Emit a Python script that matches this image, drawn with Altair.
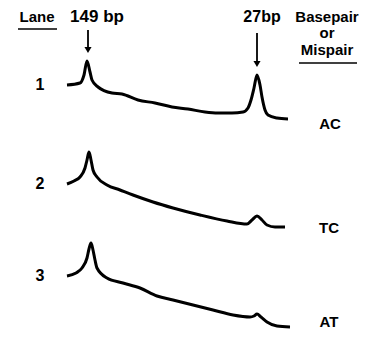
import altair as alt
import pandas as pd

# Densitometer traces (position along gel, trace height)
lane1_pos = [67, 80, 84, 87, 90, 92, 98, 112, 122, 138, 155, 172, 188, 205, 218, 232, 243, 248, 251, 254, 257, 260, 262, 265, 268, 277, 288]
lane1_val = [85, 83, 75, 61, 72, 80, 87, 93, 94, 100, 103, 107, 109, 112, 113, 113, 112, 108, 100, 88, 75, 85, 97, 110, 115, 118, 119]

lane2_pos = [67, 74, 80, 85, 87, 89, 91, 93, 97, 107, 120, 133, 153, 173, 200, 227, 247, 252, 257, 262, 267, 275, 285]
lane2_val = [184, 181, 177, 168, 160, 152, 160, 170, 177, 185, 190, 195, 202, 208, 215, 221, 224, 220, 216, 220, 225, 227, 227]

lane3_pos = [67, 76, 82, 87, 89, 91, 93, 95, 97, 107, 123, 140, 157, 173, 193, 213, 233, 250, 254, 257, 261, 267, 277, 290]
lane3_val = [276, 273, 268, 258, 249, 243, 250, 260, 268, 278, 283, 288, 296, 300, 305, 310, 315, 317, 316, 314, 317, 322, 326, 327]

lane_names = ["1", "2", "3"]
lane_pairs = ["AC", "TC", "AT"]

X = alt.Scale(domain=[8, 359], nice=False, zero=False)
Y = alt.Scale(domain=[8, 329], reverse=True, nice=False, zero=False)

rows = []
for name, ps, vs in [("1", lane1_pos, lane1_val), ("2", lane2_pos, lane2_val), ("3", lane3_pos, lane3_val)]:
    for i, (p, v) in enumerate(zip(ps, vs)):
        rows.append({"lane": name, "pos": p, "val": v, "order": i})
traces = pd.DataFrame(rows)

trace_layer = alt.Chart(traces).mark_line(color="black", strokeWidth=3, interpolate="monotone").encode(
    x=alt.X("pos:Q", scale=X, axis=None),
    y=alt.Y("val:Q", scale=Y, axis=None),
    detail="lane:N",
    order="order:Q",
)

font = "Liberation Sans"

lane_lbl = pd.DataFrame({"t": lane_names, "x": [40, 40, 40], "y": [85, 184, 276]})
lane_text = alt.Chart(lane_lbl).mark_text(font=font, fontSize=16, fontWeight="bold", color="black").encode(
    x=alt.X("x:Q", scale=X), y=alt.Y("y:Q", scale=Y), text="t:N")

pair_lbl = pd.DataFrame({"t": lane_pairs, "x": [330, 329, 329], "y": [124, 228, 322]})
pair_text = alt.Chart(pair_lbl).mark_text(font=font, fontSize=15, fontWeight="bold", color="black").encode(
    x=alt.X("x:Q", scale=X), y=alt.Y("y:Q", scale=Y), text="t:N")

head_lbl = pd.DataFrame({
    "t": ["Lane", "149 bp", "27bp", "Basepair", "or", "Mispair"],
    "x": [37, 97, 262, 327, 327, 327],
    "y": [17, 17, 17, 17, 33, 50],
    "s": [15, 17, 16, 15, 15, 15],
})
head_text = alt.Chart(head_lbl).mark_text(font=font, fontWeight="bold", color="black").encode(
    x=alt.X("x:Q", scale=X), y=alt.Y("y:Q", scale=Y), text="t:N",
    size=alt.Size("s:Q", scale=None, legend=None))

underl = pd.DataFrame({"x": [18, 299], "x2": [57, 357], "y": [29, 63]})
underline = alt.Chart(underl).mark_rule(color="black", strokeWidth=1.6).encode(
    x=alt.X("x:Q", scale=X), x2="x2:Q", y=alt.Y("y:Q", scale=Y))

arrows = pd.DataFrame({"x": [88, 257], "y1": [30, 33], "y2": [50, 64]})
shaft = alt.Chart(arrows).mark_rule(color="black", strokeWidth=1.8).encode(
    x=alt.X("x:Q", scale=X), y=alt.Y("y1:Q", scale=Y), y2="y2:Q")
head = alt.Chart(arrows).mark_point(shape="triangle-down", filled=True, color="black", size=50, opacity=1).encode(
    x=alt.X("x:Q", scale=X), y=alt.Y("y2:Q", scale=Y))

chart = alt.layer(trace_layer, lane_text, pair_text, head_text, underline, shaft, head).properties(
    width=351, height=321, padding=0, autosize=alt.AutoSizeParams(type="none")
).configure_view(stroke=None)

chart.save("out.html", embed_options={"renderer": "svg", "actions": False})
